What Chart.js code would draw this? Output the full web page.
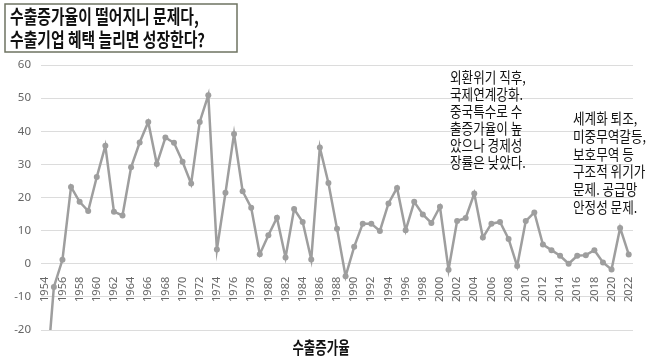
<!DOCTYPE html>
<html lang="ko">
<head>
  <meta charset="UTF-8" />
  <title>수출증가율</title>
  <script src="https://cdn.jsdelivr.net/npm/chart.js"></script>
  <style>
    body { margin: 0; background: #fff; }
    #wrap { width: 658px; height: 360px; }
  </style>
</head>
<body>
  <div id="wrap"><canvas id="exportChart" width="658" height="360"></canvas></div>

  <script>
    // 연도 (1954~2022)
    const years = [
      '1954','1955','1956','1957','1958','1959','1960','1961','1962','1963',
      '1964','1965','1966','1967','1968','1969','1970','1971','1972','1973',
      '1974','1975','1976','1977','1978','1979','1980','1981','1982','1983',
      '1984','1985','1986','1987','1988','1989','1990','1991','1992','1993',
      '1994','1995','1996','1997','1998','1999','2000','2001','2002','2003',
      '2004','2005','2006','2007','2008','2009','2010','2011','2012','2013',
      '2014','2015','2016','2017','2018','2019','2020','2021','2022'
    ];

    // 수출증가율 (%) - 그림에서 읽은 값
    const growth = [
      -39, -7, 1.2, 23.2, 18.7, 15.9, 26.2, 35.6, 15.7, 14.6,
      29.1, 36.6, 42.8, 30.1, 38.1, 36.5, 30.8, 24.2, 42.8, 50.9,
      4.3, 21.4, 39.2, 21.9, 16.9, 2.9, 8.6, 13.9, 1.9, 16.5,
      12.6, 1.3, 35.1, 24.4, 10.6, -3.8, 5.1, 12.1, 12.1, 9.9,
      18.2, 22.9, 10.1, 18.7, 14.9, 12.3, 17.2, -1.8, 12.9, 13.8,
      21.2, 7.9, 12.1, 12.6, 7.5, -0.7, 12.9, 15.5, 5.8, 4.1,
      2.4, 0.0, 2.4, 2.6, 4.1, 0.4, -1.7, 10.8, 2.8
    ];

    // y축 눈금
    const yTicks = [-20, -10, 0, 10, 20, 30, 40, 50, 60];

    const titleLines = ['수출증가율이 떨어지니 문제다,', '수출기업 혜택 늘리면 성장한다?'];
    const note1 = ['외환위기 직후,', '국제연계강화.', '중국특수로 수', '출증가율이 높', '았으나 경제성', '장률은 낮았다.'];
    const note2 = ['세계화 퇴조,', '미중무역갈등,', '보호무역 등', '구조적 위기가', '문제. 공급망', '안정성 문제.'];
    const axisName = '수출증가율';

    const KR = '"Noto Sans CJK KR", "Noto Sans", sans-serif';

    // 가로로 좁은 글꼴 흉내
    function squeezeText(ctx, text, x, y, font, sx, align) {
      ctx.save();
      ctx.font = font;
      ctx.textBaseline = 'middle';
      ctx.textAlign = 'left';
      const w = ctx.measureText(text).width * sx;
      let left = x;
      if (align === 'center') left = x - w / 2;
      ctx.translate(left, y);
      ctx.scale(sx, 1);
      ctx.fillText(text, 0, 0);
      ctx.restore();
    }

    const textPlugin = {
      id: 'textPlugin',
      afterDraw(chart) {
        const ctx = chart.ctx;
        ctx.save();
        // 제목 상자
        ctx.fillStyle = '#fff';
        ctx.fillRect(5, 4, 232, 48);
        ctx.strokeStyle = '#6e7361';
        ctx.lineWidth = 1.5;
        ctx.strokeRect(5, 4, 232, 48);
        ctx.fillStyle = '#111';
        squeezeText(ctx, titleLines[0], 10, 17, 'bold 19px ' + KR, 0.78, 'left');
        squeezeText(ctx, titleLines[1], 10, 40, 'bold 19px ' + KR, 0.78, 'left');

        // 설명 글
        ctx.fillStyle = '#111';
        note1.forEach((t, i) => squeezeText(ctx, t, 450, 77.5 + i * 17, '15px ' + KR, 0.84, 'left'));
        note2.forEach((t, i) => squeezeText(ctx, t, 573, 118.5 + i * 17.7, '15px ' + KR, 0.84, 'left'));

        // 축 이름
        squeezeText(ctx, axisName, 321, 347.5, 'bold 17px ' + KR, 0.73, 'center');
        ctx.restore();
      }
    };

    const ctx = document.getElementById('exportChart').getContext('2d');
    new Chart(ctx, {
      type: 'line',
      data: {
        labels: years,
        datasets: [{
          label: axisName,
          data: growth,
          borderColor: '#9e9e9e',
          backgroundColor: '#9e9e9e',
          borderWidth: 2.5,
          pointRadius: 3,
          pointBorderWidth: 0,
          pointBackgroundColor: '#9e9e9e',
          tension: 0
        }]
      },
      options: {
        responsive: false,
        animation: false,
        layout: { padding: { top: 65, right: 25, bottom: 30, left: 0 } },
        plugins: {
          legend: { display: false },
          tooltip: { enabled: false },
          title: { display: false }
        },
        scales: {
          x: {
            type: 'category',
            position: { y: 0 },
            offset: true,
            grid: { display: false },
            border: { display: false },
            ticks: {
              autoSkip: false,
              minRotation: 90,
              maxRotation: 90,
              padding: 5,
              color: '#666',
              font: { family: '"Noto Sans", sans-serif', size: 11 },
              callback: (v, i) => (i % 2 === 0 ? years[i] : '')
            }
          },
          y: {
            min: yTicks[0],
            max: yTicks[yTicks.length - 1],
            afterBuildTicks: (s) => { s.ticks = yTicks.map(v => ({ value: v })); },
            afterFit: (s) => { s.width = 41; },
            grid: { color: '#dcdcdc', lineWidth: 1, drawTicks: false },
            border: { display: false },
            ticks: {
              padding: 10,
              color: '#666',
              font: { family: '"Noto Sans", sans-serif', size: 11.5 }
            }
          }
        }
      },
      plugins: [textPlugin]
    });
  </script>
</body>
</html>
